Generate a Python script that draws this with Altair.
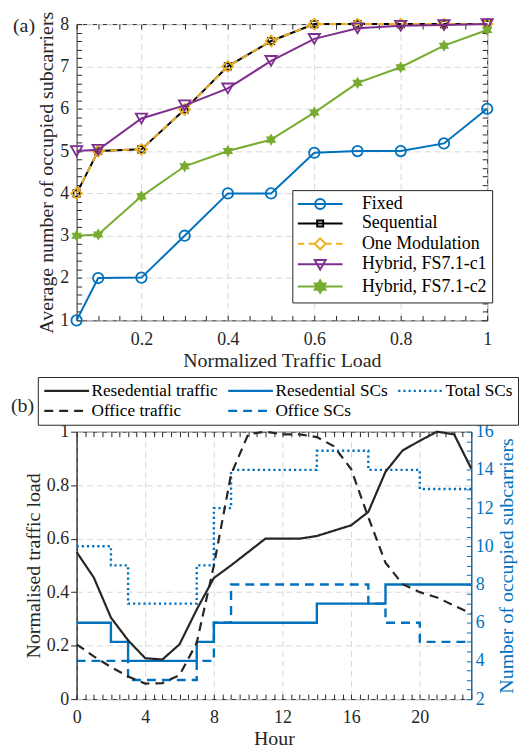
import math
import altair as alt
import pandas as pd

FONT = "Liberation Serif"
INK = "#262626"
BLUE = "#0072BD"
ORANGE = "#EDB120"
PURPLE = "#7E2F8E"
GREEN = "#77AC30"
BLACK = "#000000"
GRID = "#D8D8D8"

# ---------------- panel (a) data ----------------
loads = [0.05, 0.1, 0.2, 0.3, 0.4, 0.5, 0.6, 0.7, 0.8, 0.9, 1.0]
fixed = [1.0, 2.0, 2.01, 3.0, 4.0, 4.0, 4.96, 5.0, 5.0, 5.18, 6.0]
sequential = [4.0, 5.0, 5.04, 5.98, 7.0, 7.6, 8.0, 8.0, 8.0, 8.0, 8.0]
one_modulation = [4.0, 5.0, 5.04, 5.98, 7.0, 7.6, 8.0, 8.0, 8.0, 8.0, 8.0]
hybrid_c1 = [5.0, 5.03, 5.77, 6.08, 6.48, 7.13, 7.65, 7.9, 7.96, 7.98, 8.0]
hybrid_c2 = [3.0, 3.03, 3.93, 4.64, 5.0, 5.27, 5.91, 6.61, 6.98, 7.49, 7.86]
series_a = ["Fixed", "Sequential", "One Modulation", "Hybrid, FS7.1-c1", "Hybrid, FS7.1-c2"]
x_ticks_a = [0.2, 0.4, 0.6, 0.8, 1.0]
y_ticks_a = [1, 2, 3, 4, 5, 6, 7, 8]

# ---------------- panel (b) data ----------------
hours = list(range(24))
res_traffic = [0.55, 0.455, 0.305, 0.22, 0.153, 0.148, 0.205, 0.335, 0.453, 0.50, 0.55, 0.60,
               0.60, 0.60, 0.61, 0.63, 0.65, 0.70, 0.85, 0.93, 0.966, 1.0, 0.99, 0.862]
off_traffic = [0.205, 0.16, 0.12, 0.085, 0.058, 0.06, 0.09, 0.21, 0.50, 0.84, 0.99, 1.0,
               0.99, 0.99, 0.98, 0.945, 0.86, 0.68, 0.51, 0.43, 0.40, 0.38, 0.35, 0.32]
res_scs = [6, 6, 5, 4, 4, 4, 4, 5, 6, 6, 6, 6, 6, 6, 7, 7, 7, 7, 8, 8, 8, 8, 8, 8]
off_scs = [4, 4, 4, 3, 3, 3, 3, 4, 6, 8, 8, 8, 8, 8, 8, 8, 8, 7, 6, 6, 5, 5, 5, 5]
total_scs = [10, 10, 9, 7, 7, 7, 7, 9, 12, 14, 14, 14, 14, 14, 15, 15, 15, 14, 14, 14, 13, 13, 13, 13]
# legend order (filled column by column, two rows)
series_b = ["Resedential traffic", "Office traffic", "Resedential SCs", "Office SCs", "Total SCs"]
x_ticks_b = [0, 4, 8, 12, 16, 20]
y_ticks_b = [0, 0.2, 0.4, 0.6, 0.8, 1.0]
y2_ticks_b = [2, 4, 6, 8, 10, 12, 14, 16]

df_a = pd.DataFrame({
    "load": loads * 5,
    "value": fixed + sequential + one_modulation + hybrid_c1 + hybrid_c2,
    "series": sum([[s] * len(loads) for s in series_a], []),
})
df_traffic = pd.DataFrame({
    "hour": hours * 2,
    "value": res_traffic + off_traffic,
    "series": ["Resedential traffic"] * 24 + ["Office traffic"] * 24,
})
df_scs = pd.DataFrame({
    "hour": hours * 3,
    "value": res_scs + off_scs + total_scs,
    "series": ["Resedential SCs"] * 24 + ["Office SCs"] * 24 + ["Total SCs"] * 24,
})


def star(R):
    pts = []
    for k in range(12):
        a = math.radians(-90 + 30 * k)
        r = R if k % 2 == 0 else R / math.sqrt(3)
        pts.append(f"{r * math.cos(a):.3f},{r * math.sin(a):.3f}")
    return "M" + "L".join(pts) + "Z"


HEX = star(1.0)
LINE = "M-4.5,0L4.5,0"
CIRC = "M1,0A1,1,0,0,1,0,1A1,1,0,0,1,-1,0A1,1,0,0,1,0,-1A1,1,0,0,1,1,0Z"
legend_paths = [
    LINE + CIRC,
    LINE + "M-0.6,-0.6L0.6,-0.6L0.6,0.6L-0.6,0.6Z",
    "M-4.5,0L-3.2,0M-2.3,0L-1.1,0M1.1,0L2.3,0M3.2,0L4.5,0M0,-1.1L1.1,0L0,1.1L-1.1,0Z",
    LINE + "M-1.1,-0.85L1.1,-0.85L0,1.05Z",
    LINE + star(1.25) + star(0.8) + star(0.4),
]
colors_a = [BLUE, BLACK, ORANGE, PURPLE, GREEN]
styles_a = [
    dict(dash=None, shape="circle", size=110, filled=False),
    dict(dash=None, shape="square", size=40, filled=False),
    dict(dash=[7, 5], shape="diamond", size=120, filled=False),
    dict(dash=None, shape="triangle-down", size=130, filled=False),
    dict(dash=None, shape=HEX, size=150, filled=True),
]

# ---------------- panel (a) ----------------
W1, H1 = 413, 298
xs_a = alt.Scale(domain=[0.05, 1.0], nice=False, zero=False)
ys_a = alt.Scale(domain=[1, 8], nice=False, zero=False)
minor_x_a = [round(0.05 * i, 2) for i in range(1, 21)]
minor_y_a = [round(1 + 0.2 * i, 1) for i in range(36)]

tick_common = dict(labels=False, grid=False, domain=False, ticks=True, tickWidth=1, tickSize=5, title=None)

ax_x_main_a = alt.Axis(orient="bottom", values=x_ticks_a, format="~g", grid=True, gridColor=GRID,
                       gridDash=[6, 4], ticks=False, domain=False, labelPadding=10, labelFlush=False,
                       title="Normalized Traffic Load", titlePadding=2)
ax_x_tb_a = alt.Axis(orient="top", offset=-H1, values=minor_x_a, tickColor=INK, **tick_common)
ax_x_tt_a = alt.Axis(orient="bottom", offset=-H1, values=minor_x_a, tickColor=INK, **tick_common)
ax_y_main_a = alt.Axis(orient="left", values=y_ticks_a, format="d", grid=True, gridColor=GRID,
                       gridDash=[6, 4], ticks=False, domain=False, labelPadding=8, labelFlush=False,
                       minExtent=0, title="Average number of occupied subcarriers", titlePadding=3)
ax_y_tl_a = alt.Axis(orient="right", offset=-W1, values=minor_y_a, tickColor=INK, **tick_common)
ax_y_tr_a = alt.Axis(orient="left", offset=-W1, values=minor_y_a, tickColor=INK, **tick_common)

axis_plan_a = {
    ("line", 0): (ax_x_main_a, ax_y_main_a),
    ("point", 0): (ax_x_tb_a, ax_y_tl_a),
    ("line", 1): (ax_x_tt_a, ax_y_tr_a),
}

leg_a = alt.Legend(title=None, orient="none", legendX=217, legendY=167, direction="vertical",
                   fillColor="white", strokeColor=INK, padding=5, labelFont=FONT, labelFontSize=18,
                   labelColor=BLACK, symbolSize=100, symbolStrokeWidth=2, symbolOffset=14,
                   labelOffset=33, rowPadding=1.5,
                   labelExpr="datum.label + '\u00a0\u00a0\u00a0\u00a0'")

layers_a = []
for i, name in enumerate(series_a):
    st = styles_a[i]
    base = alt.Chart(df_a).transform_filter(alt.datum.series == name)
    xa, ya = axis_plan_a.get(("line", i), (None, None))
    line_kw = dict(color=colors_a[i], strokeWidth=2)
    if st["dash"]:
        line_kw["strokeDash"] = st["dash"]
    layers_a.append(base.mark_line(**line_kw).encode(
        x=alt.X("load:Q", scale=xs_a, axis=xa),
        y=alt.Y("value:Q", scale=ys_a, axis=ya)))
    xa, ya = axis_plan_a.get(("point", i), (None, None))
    layers_a.append(base.mark_point(shape=st["shape"], size=st["size"], filled=st["filled"],
                                    color=colors_a[i], strokeWidth=1.8, opacity=1).encode(
        x=alt.X("load:Q", scale=xs_a, axis=xa),
        y=alt.Y("value:Q", scale=ys_a, axis=ya)))

legend_layer_a = alt.Chart(df_a).transform_filter("datum.value < 0").mark_point(
    filled=False, opacity=1, strokeWidth=2, size=100).encode(
    x=alt.X("load:Q", scale=xs_a, axis=None),
    y=alt.Y("value:Q", scale=ys_a, axis=None),
    color=alt.Color("series:N", scale=alt.Scale(domain=series_a, range=colors_a), legend=leg_a),
    shape=alt.Shape("series:N", scale=alt.Scale(domain=series_a, range=legend_paths), legend=leg_a),
)
label_a = alt.Chart(pd.DataFrame({"t": ["(a)"]})).mark_text(
    align="left", baseline="middle", fontSize=20, font=FONT, color=INK).encode(
    x=alt.value(-64), y=alt.value(2), text="t:N")

top = alt.layer(*layers_a, legend_layer_a, label_a).properties(width=W1, height=H1).resolve_axis(
    x="independent", y="independent")

# ---------------- panel (b) ----------------
W2, H2 = 397, 269
xs_b = alt.Scale(domain=[0, 23], nice=False, zero=False)
ys_b = alt.Scale(domain=[0, 1], nice=False)
ys2_b = alt.Scale(domain=[2, 16], nice=False, zero=False)
color_b = alt.Scale(domain=series_b, range=[INK, INK, BLUE, BLUE, BLUE])
dash_b = alt.Scale(domain=series_b, range=[[1, 0], [9, 6], [1, 0], [9, 6], [2.2, 3]])
minor_x_b = [0.5 * i for i in range(47)]
minor_y2_b = [2 + 0.5 * i for i in range(29)]

leg_b = alt.Legend(title=None, orient="none", legendX=-39, legendY=-55, columns=3,
                   fillColor="white", strokeColor=INK, padding=5, labelFont=FONT,
                   labelFontSize=17.3, labelColor=BLACK, symbolType="stroke", symbolSize=2025,
                   symbolStrokeWidth=2.3, clipHeight=18, rowPadding=2, columnPadding=9,
                   labelOffset=1, symbolOffset=0)

ax_x_main_b = alt.Axis(orient="bottom", values=x_ticks_b, format="d", grid=True, gridColor=GRID,
                       gridDash=[6, 4], ticks=False, domain=False, labelPadding=10, labelFlush=False,
                       title="Hour", titlePadding=2)
ax_x_tb_b = alt.Axis(orient="top", offset=-H2, values=minor_x_b, tickColor=INK, **tick_common)
ax_x_tt_b = alt.Axis(orient="bottom", offset=-H2, values=minor_x_b, tickColor=INK, **tick_common)
ax_y_main_b = alt.Axis(orient="left", values=y_ticks_b, format="~g", grid=True, gridColor=GRID,
                       gridDash=[6, 4], ticks=True, tickSize=6, tickColor=INK, domain=True,
                       domainColor=INK, labelPadding=2, labelFlush=False, minExtent=0,
                       title="Normalised traffic load", titlePadding=3)
ax_y2_main_b = alt.Axis(orient="right", values=y2_ticks_b, format="d", grid=False, ticks=False,
                        domain=True, domainColor=BLUE, labelColor=BLUE, labelPadding=4,
                        labelFlush=False, minExtent=0, title="Number of occupied subcarriers",
                        titleColor=BLUE, titleAngle=270, titleBaseline="top", titlePadding=3)
ax_y2_t_b = alt.Axis(orient="left", offset=-W2, values=minor_y2_b, tickColor=BLUE, **tick_common)


def b_layer(df, name, yscale, xax, yax, width, interp=None):
    kw = dict(strokeWidth=width)
    if interp:
        kw["interpolate"] = interp
    return alt.Chart(df).transform_filter(alt.datum.series == name).mark_line(**kw).encode(
        x=alt.X("hour:Q", scale=xs_b, axis=xax),
        y=alt.Y("value:Q", scale=yscale, axis=yax),
        color=alt.Color("series:N", scale=color_b, legend=leg_b),
        strokeDash=alt.StrokeDash("series:N", scale=dash_b, legend=leg_b),
    )


l_off_sc = b_layer(df_scs, "Office SCs", ys2_b, ax_x_tt_b, ax_y2_t_b, 2.4, "step-after")
l_tot_sc = b_layer(df_scs, "Total SCs", ys2_b, None, ax_y2_main_b, 2.4, "step-after")
l_res_sc = b_layer(df_scs, "Resedential SCs", ys2_b, None, None, 2.4, "step-after")
l_res_tr = b_layer(df_traffic, "Resedential traffic", ys_b, ax_x_main_b, ax_y_main_b, 2.2)
l_off_tr = b_layer(df_traffic, "Office traffic", ys_b, ax_x_tb_b, None, 2.2)

label_b = alt.Chart(pd.DataFrame({"t": ["(b)"]})).mark_text(
    align="left", baseline="middle", fontSize=20, font=FONT, color=INK).encode(
    x=alt.value(-66), y=alt.value(-26), text="t:N")

bottom = alt.layer(l_off_sc, l_tot_sc, l_res_sc, l_res_tr, l_off_tr, label_b).properties(
    width=W2, height=H2).resolve_scale(y="independent").resolve_axis(x="independent", y="independent")

chart = alt.vconcat(top, bottom, spacing=5).resolve_scale(
    color="independent", shape="independent", strokeDash="independent"
).properties(
    padding={"left": 2, "top": 0, "right": 0, "bottom": 0}
).configure(font=FONT).configure_view(stroke=INK, strokeWidth=1).configure_axis(
    labelFont=FONT, titleFont=FONT, labelFontSize=18, titleFontSize=20, titleFontWeight="normal",
    labelColor=INK, titleColor=INK, tickColor=INK, domainColor=INK)

chart.save("out.html", embed_options={"renderer": "svg", "actions": False})
